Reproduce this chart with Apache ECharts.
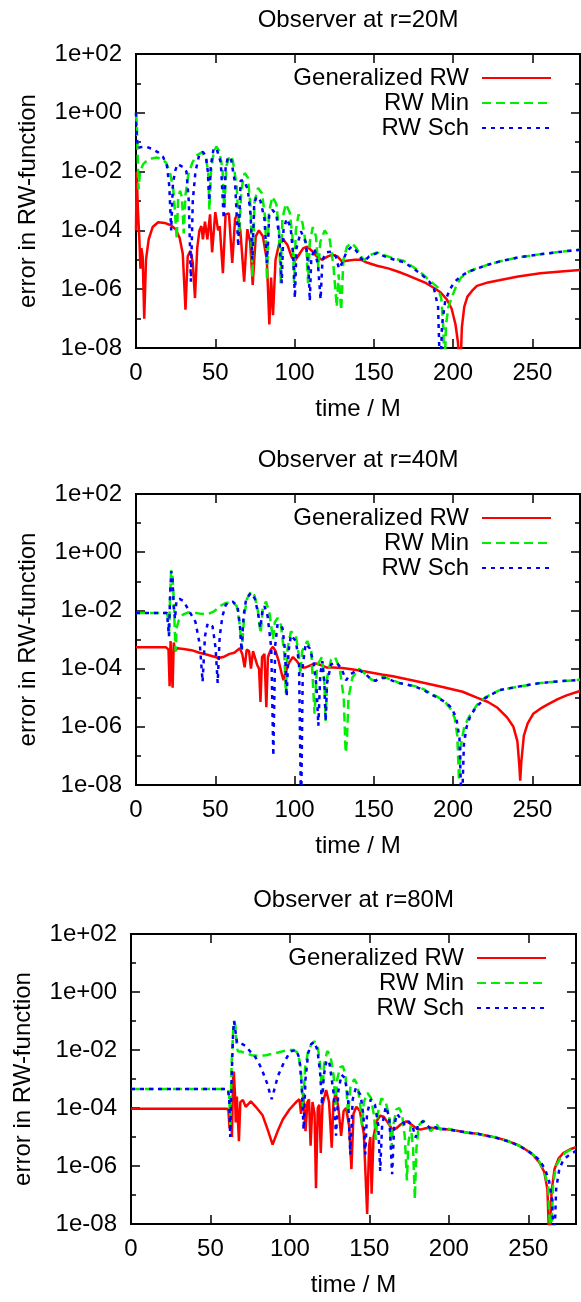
<!DOCTYPE html>
<html><head><meta charset="utf-8">
<script src="https://cdn.jsdelivr.net/npm/echarts@6/dist/echarts.min.js"></script>
<style>html,body{margin:0;padding:0;background:#fff}#c{width:581px;height:1302px}</style>
</head><body><div id="c"></div>
<script>
// ---------------- data ----------------
const panelTitles = ['Observer at r=20M', 'Observer at r=40M', 'Observer at r=80M'];
const seriesNames = ['Generalized RW', 'RW Min', 'RW Sch'];
const xTickValues = [0, 50, 100, 150, 200, 250];
const yTickValues = [1e-8, 1e-6, 1e-4, 1e-2, 1e0, 1e2];
const yTickLabels = ['1e-08', '1e-06', '1e-04', '1e-02', '1e+00', '1e+02'];
const yMinorTickValues = [1e-7, 1e-5, 1e-3, 1e-1, 1e1];
const xAxisTitle = 'time / M';
const yAxisTitle = 'error in RW-function';

// Observer at r=20M  [time, error]
const gen20 = [[0,1e-4],[0.4,1e-2],[1.2,5.0e-4],[2.2,4.0e-5],[2.8,5.0e-6],[3.4,2.5e-5],[4.2,1.3e-5],[5.2,1e-7],[6.3,1e-5],[8,5.0e-5],[10.5,1.3e-4],[14,1.9e-4],[18,1.8e-4],[22,1.5e-4],[25,1.1e-4],[27.5,5.6e-5],[29.5,1.6e-5],[31.2,2.0e-7],[32.6,1.3e-5],[34.4,2.0e-5],[35.8,7.9e-6],[37.2,5.0e-7],[38.6,2.5e-5],[40,1.0e-4],[41.2,1.4e-4],[42.2,5.0e-5],[43.5,2.0e-4],[45,5.0e-5],[46.7,3.5e-4],[48,1.8e-5],[50,4.2e-4],[51.8,1.0e-4],[52.8,1.4e-4],[54.8,3.5e-6],[56.5,3.5e-4],[58.6,3.8e-4],[60.7,7.9e-6],[62.5,2.5e-4],[64,3.5e-4],[65.8,1.0e-4],[68.2,1.8e-6],[70.2,1.1e-4],[72,4.0e-5],[73.6,1.4e-6],[75.5,6.3e-5],[77.5,1.0e-4],[80,6.3e-5],[82.5,1.0e-5],[84.1,6.3e-8],[85.2,2.5e-6],[86.4,1.3e-7],[88,1.0e-5],[90.5,4.0e-5],[92.8,5.0e-5],[95.5,3.2e-5],[98,1.3e-5],[100,8.9e-6],[102.5,1.4e-5],[105.5,2.5e-5],[108,2.8e-5],[111,2.0e-5],[114,1.3e-5],[117.3,1.0e-5],[121,1.3e-5],[124,1.5e-5],[127,1.3e-5],[130,8.7e-6],[134,9.5e-6],[138,1.0e-5],[142,1.0e-5],[146,7.9e-6],[152,6.3e-6],[159,5.1e-6],[165,4.0e-6],[171,3.0e-6],[177,2.2e-6],[183,1.6e-6],[188,1.1e-6],[192,7.9e-7],[196,4.5e-7],[199,2.2e-7],[201.5,6.3e-8],[203,1.6e-8],[204.4,1e-9],[205.5,5.0e-8],[207,2.5e-7],[209,5.6e-7],[212,8.9e-7],[215,1.3e-6],[222,1.7e-6],[229,2.0e-6],[241,2.7e-6],[255,3.5e-6],[268,4.0e-6],[280,4.5e-6]];
const min20 = [[0,1.0],[0.6,0.32],[1.6,2.5e-3],[2.6,1.0e-2],[4.5,1.8e-2],[7,2.4e-2],[10,2.8e-2],[13,3.0e-2],[16,2.8e-2],[19,2.0e-2],[21.5,8.9e-3],[23.5,2.5e-3],[24.6,4.0e-4],[25.7,5.0e-5],[26.6,1.3e-3],[27.8,2.2e-3],[29,1.3e-3],[30.1,7.9e-5],[31.2,1.6e-3],[33,7.9e-3],[35.5,2.0e-2],[38,3.5e-2],[41.5,4.5e-2],[44,3.2e-2],[45.5,1.0e-2],[46.3,5.0e-4],[47.3,1.0e-2],[49,4.5e-2],[50.7,7.1e-2],[52.5,5.0e-2],[54.5,1.3e-2],[55.7,5.0e-4],[57,1.6e-2],[59,3.5e-2],[61,2.5e-2],[63.5,3.2e-3],[65,6.3e-5],[66.5,2.5e-3],[68.5,8.9e-3],[70.5,6.3e-3],[72.3,6.3e-4],[73.4,2.5e-6],[74.8,1.0e-3],[77,2.8e-3],[79.5,1.8e-3],[81.5,2.5e-4],[82.6,2.0e-6],[83.8,4.0e-4],[86,1.4e-3],[88.5,7.9e-4],[90.2,1.0e-4],[91.2,1.6e-6],[92.3,2.5e-4],[94.5,7.9e-4],[97,4.0e-4],[98.8,5.0e-5],[99.7,1.6e-6],[100.8,1.0e-4],[102.5,3.5e-4],[105,1.8e-4],[107.5,2.5e-5],[108.5,1.6e-6],[109.6,4.0e-5],[111.5,1.3e-4],[113.5,6.3e-5],[115,5.0e-6],[116.2,4.0e-5],[119,1.0e-4],[122,5.6e-5],[124.5,6.3e-6],[126.6,2.5e-7],[127.8,3.2e-6],[129.4,1.9e-7],[130.8,1.0e-5],[133,2.8e-5],[136,3.7e-5],[139,2.5e-5],[141.5,1.4e-5],[144,9.5e-6],[147,1.4e-5],[152,1.8e-5],[157,1.4e-5],[163,1.1e-5],[169,9.1e-6],[175,5.6e-6],[180,3.5e-6],[185,2.0e-6],[190,1.2e-6],[192.5,5.0e-7],[193.8,5.0e-8],[194.5,1e-9],[195.5,6.3e-8],[197,2.5e-7],[199,5.0e-7],[202,1.3e-6],[205,2.5e-6],[210,4.0e-6],[215,5.1e-6],[222,6.8e-6],[229,8.7e-6],[241,1.2e-5],[253,1.5e-5],[265,1.8e-5],[280,2.2e-5]];
const sch20 = [[0,1.0],[0.5,0.16],[1.2,6.3e-2],[3,6.8e-2],[6,7.1e-2],[10,6.0e-2],[14,4.5e-2],[17,3.2e-2],[19.5,1.6e-2],[21,3.2e-3],[22.2,1.0e-4],[23.3,4.0e-3],[24.8,1.1e-2],[26.2,1.8e-2],[28,1.6e-2],[30,1.4e-2],[31.8,1.0e-2],[33.3,1.0e-3],[34.6,1.8e-6],[35.8,1.0e-3],[37.5,1.0e-2],[40,4.0e-2],[42,4.7e-2],[44,3.5e-2],[45.3,1.0e-2],[46.2,1.0e-3],[47.2,1.6e-2],[49,6.3e-2],[51,5.6e-2],[53.5,2.0e-2],[55.3,2.5e-4],[56.5,1.3e-2],[58,3.2e-2],[60,2.5e-2],[62.5,4.0e-3],[64.5,2.8e-5],[66,5.0e-3],[68,5.0e-3],[70.5,2.5e-3],[72.3,3.2e-4],[73.4,1.0e-5],[74.5,7.9e-4],[76,1.4e-3],[78.5,1.0e-3],[81,2.5e-4],[82.6,7.9e-6],[84,3.2e-4],[86,5.0e-4],[88.5,3.5e-4],[90.5,5.0e-5],[91.9,1.6e-6],[93,1.0e-4],[95,2.5e-4],[97.5,1.3e-4],[99.2,1.3e-5],[100.2,5.0e-7],[101.2,2.5e-5],[104,9.3e-5],[107,4.0e-5],[108.8,5.0e-6],[109.6,4.0e-7],[110.5,1.0e-5],[112.5,2.5e-5],[114.8,6.3e-6],[116.4,4.5e-7],[117.6,1.0e-5],[120,1.8e-5],[123,1.9e-5],[126,1.3e-5],[128,5.0e-6],[130,7.9e-6],[133,2.0e-5],[136,2.8e-5],[139,2.0e-5],[142,1.1e-5],[144,8.9e-6],[147,1.3e-5],[152,1.7e-5],[157,1.3e-5],[163,1.0e-5],[169,8.3e-6],[175,5.0e-6],[180,3.2e-6],[185,1.8e-6],[188,1.0e-6],[190.5,2.5e-7],[191.8,1e-9],[193,6.3e-8],[195,4.0e-7],[198,1.0e-6],[201,1.8e-6],[205,2.8e-6],[210,4.0e-6],[215,5.0e-6],[222,6.8e-6],[229,8.7e-6],[241,1.2e-5],[253,1.5e-5],[265,1.8e-5],[280,2.2e-5]];

// Observer at r=40M
const gen40 = [[0,5.4e-4],[19,5.4e-4],[20.5,4.5e-4],[21.2,2.5e-5],[21.8,8.9e-4],[22.5,1.0e-4],[23.1,2.2e-5],[23.8,7.9e-4],[24.6,4.0e-4],[26,5.0e-4],[30,4.7e-4],[35,4.3e-4],[40,3.5e-4],[45,3.0e-4],[50,2.5e-4],[52,2.3e-4],[55,2.5e-4],[59,3.2e-4],[62,3.5e-4],[65.5,5.0e-4],[67,3.2e-4],[68.5,1.1e-4],[69.8,4.5e-4],[71.3,4.0e-4],[72.5,1.0e-4],[73.8,4.0e-4],[75,3.5e-4],[76.5,1.3e-4],[77.6,1.0e-4],[78.5,7.1e-6],[79.5,2.5e-4],[81,3.2e-4],[82.2,4.7e-6],[83.2,2.5e-4],[85,4.5e-4],[86.4,5.6e-4],[88,4.0e-4],[90,1.8e-4],[92,6.3e-5],[93,4.0e-5],[94.5,7.9e-5],[96.5,1.6e-4],[99,2.5e-4],[101.5,1.8e-4],[104.4,1.1e-4],[107,1.1e-4],[110,1.3e-4],[113.5,1.5e-4],[117,1.3e-4],[120,1.1e-4],[124,1.1e-4],[130,1.05e-4],[136,9.5e-5],[142,8.5e-5],[148,7.4e-5],[155,6.3e-5],[162,5.5e-5],[171,4.3e-5],[182,3.2e-5],[194,2.3e-5],[206,1.6e-5],[215,1.0e-5],[222,7.1e-6],[228,4.5e-6],[234,2.1e-6],[238,1.0e-6],[240.5,3.2e-7],[241.7,5.0e-8],[242.3,1.4e-8],[243,6.3e-8],[244.6,5.0e-7],[247,1.3e-6],[250.5,2.8e-6],[255,4.2e-6],[260,6.0e-6],[266,8.9e-6],[271.5,1.2e-5],[280,1.7e-5]];
const min40 = [[0,8.1e-3],[19.5,8.1e-3],[20.3,5.0e-3],[20.8,1.3e-3],[21.5,3.2e-2],[22.2,0.24],[23,0.16],[23.8,2.5e-2],[24.4,2.5e-3],[25,4.0e-4],[25.6,2.5e-3],[27,4.5e-3],[29.5,7.1e-3],[33,8.5e-3],[37,8.3e-3],[41,7.6e-3],[45,7.4e-3],[49.5,9.5e-3],[53,1.4e-2],[56.5,1.8e-2],[61,1.9e-2],[63.5,1.4e-2],[65.2,4.0e-3],[66.8,4.5e-4],[68.2,6.3e-3],[70,2.5e-2],[72.5,4.5e-2],[74.8,3.2e-2],[76.8,1.0e-2],[78.6,1.6e-3],[80,1.3e-2],[82,2.0e-2],[84.2,7.9e-3],[86.4,1.0e-3],[87.6,4.0e-3],[89.3,5.5e-3],[91.4,3.2e-3],[93.5,3.2e-4],[94.5,1.4e-5],[95.6,5.0e-4],[97.7,1.9e-3],[100.8,1.4e-3],[102.6,3.2e-4],[103.6,6.3e-5],[104.8,4.0e-4],[108,8.9e-4],[110.5,4.0e-4],[112.6,2.8e-6],[114.2,1.3e-4],[117.3,2.5e-4],[118.8,3.2e-5],[119.6,1.6e-6],[120.6,5.0e-5],[123,2.0e-4],[125.5,2.5e-4],[128.5,1.0e-4],[131,1.0e-5],[132.2,1.3e-7],[133,3.2e-7],[134,1.0e-5],[136.5,5.0e-5],[140.7,9.8e-5],[145,6.3e-5],[148.5,4.2e-5],[151,3.8e-5],[154,5.0e-5],[157,5.0e-5],[162,4.0e-5],[166,3.2e-5],[171,2.8e-5],[176,2.5e-5],[181,2.0e-5],[186,1.4e-5],[191,1.0e-5],[195,7.1e-6],[198.5,4.0e-6],[201,2.0e-6],[202.6,5.0e-7],[203.7,1.4e-8],[205,2.5e-7],[207,1.0e-6],[210,2.2e-6],[215,5.6e-6],[220,1.0e-5],[229,1.8e-5],[241,2.4e-5],[255,3.2e-5],[268,3.7e-5],[280,4.1e-5]];
const sch40 = [[0,8.1e-3],[19.5,8.1e-3],[20.2,3.2e-3],[20.8,1.3e-3],[21.5,3.2e-2],[22.2,0.22],[23,0.13],[23.8,1.3e-2],[24.6,5.0e-3],[25.5,2.2e-2],[27.5,2.5e-2],[30,2.1e-2],[33.6,9.3e-3],[37.5,4.0e-3],[40.3,6.3e-4],[42,3.5e-5],[43.5,1.3e-3],[45.2,3.6e-3],[48.3,2.8e-3],[50.2,5.0e-4],[51.5,3.2e-5],[52.8,1.3e-3],[54.5,6.3e-3],[56.7,1.6e-2],[61,2.0e-2],[64,1.4e-2],[65.5,3.2e-3],[66.6,4.0e-4],[67.8,6.3e-3],[69.5,2.5e-2],[72.5,4.0e-2],[75,2.5e-2],[77,7.9e-3],[78.4,2.5e-3],[79.8,1.0e-2],[81,1.4e-2],[83,6.3e-3],[85.3,5.0e-4],[86.6,1.0e-7],[87.8,6.3e-4],[89.3,3.5e-3],[92.4,2.5e-3],[94,4.0e-4],[95,1.1e-5],[96.2,4.0e-4],[97.7,1.4e-3],[100.8,8.9e-4],[102.8,1.6e-4],[104.1,1e-9],[105.2,1.3e-4],[107,7.1e-4],[109.5,5.0e-4],[112,1.6e-4],[113.8,2.5e-5],[115,1.1e-6],[116.2,6.3e-5],[117.5,1.8e-4],[118.8,3.2e-5],[119.6,1.6e-6],[120.5,3.2e-5],[123,1.4e-4],[126.6,1.6e-4],[129.5,1.0e-4],[132.5,4.0e-5],[135,6.3e-5],[138,7.9e-5],[140.7,8.9e-5],[145,6.3e-5],[148.5,4.2e-5],[151,3.8e-5],[154,4.8e-5],[157,4.8e-5],[162,3.8e-5],[166,3.2e-5],[171,2.8e-5],[176,2.4e-5],[181,1.9e-5],[186,1.3e-5],[191,9.5e-6],[195,7.1e-6],[199,4.5e-6],[202,2.0e-6],[204,4.0e-7],[205.4,1e-9],[206.8,2.5e-7],[208.5,1.0e-6],[211,2.5e-6],[215,5.0e-6],[220,9.5e-6],[229,1.8e-5],[241,2.4e-5],[255,3.2e-5],[268,3.7e-5],[280,4.1e-5]];

// Observer at r=80M
const gen80 = [[0,9.5e-5],[60.5,9.5e-5],[61.3,7.9e-5],[62,2.0e-5],[62.8,2.5e-4],[63.5,1.0e-5],[64.2,1.0e-3],[64.7,1.8e-3],[65.4,3.2e-4],[65.9,3.2e-5],[66.6,2.5e-4],[67.9,7.1e-6],[68.8,1.6e-4],[70.4,1.9e-4],[72.2,1.1e-4],[75.4,1.7e-4],[78.5,1.1e-4],[82.8,5.6e-5],[86,1.8e-5],[89.1,5.5e-6],[92.3,1.6e-5],[95.5,4.0e-5],[99.7,8.9e-5],[103.9,1.6e-4],[106,2.0e-4],[107,6.3e-5],[108.5,3.3e-4],[109.8,1.6e-5],[111,1.6e-4],[112,2.0e-4],[113,5.0e-6],[114.2,1.6e-4],[115.5,6.3e-5],[116.4,1.7e-7],[117.5,1.0e-4],[118.5,1.3e-4],[119.4,2.8e-6],[120.5,1.3e-4],[122.8,4.2e-4],[124.6,1.6e-4],[126.3,4.3e-6],[127.4,1.6e-4],[128.8,3.2e-4],[130.5,1.0e-4],[132.2,1.1e-5],[133.8,7.9e-5],[135.3,1.0e-4],[137.2,2.5e-5],[138.7,7.8e-7],[140,6.3e-5],[141.8,1.1e-4],[144,7.9e-5],[146.5,1.3e-5],[148.6,2.2e-8],[149.8,5.0e-6],[150.6,1.0e-5],[151.4,1.1e-7],[152.6,1.0e-5],[154.5,3.5e-5],[156.8,5.4e-5],[159,5.0e-5],[161.5,3.2e-5],[164.5,1.8e-5],[167,2.0e-5],[170,2.8e-5],[173.2,3.5e-5],[176,2.8e-5],[179,2.1e-5],[182,1.8e-5],[185.5,2.0e-5],[188.5,2.1e-5],[192,2.0e-5],[196,1.9e-5],[200,1.8e-5],[206,1.6e-5],[212,1.4e-5],[218,1.3e-5],[224,1.1e-5],[230,9.5e-6],[236,7.6e-6],[241,6.0e-6],[245,4.8e-6],[249,3.5e-6],[253,2.4e-6],[257,1.3e-6],[260,6.3e-7],[262,1.6e-7],[263.4,1e-9],[264.6,1.3e-7],[266.5,7.9e-7],[269,1.8e-6],[272,2.8e-6],[276,3.7e-6],[280,4.5e-6]];
const min80 = [[0,4.5e-4],[61,4.5e-4],[61.8,2.5e-4],[62.5,2.5e-5],[63.3,3.2e-3],[64.3,5.0e-2],[65,0.1],[65.8,6.3e-2],[66.5,1.3e-2],[67.3,8.9e-3],[69,8.9e-3],[72,7.9e-3],[76,6.6e-3],[80.5,6.3e-3],[85,6.6e-3],[90,7.6e-3],[95,8.9e-3],[99.3,1.0e-2],[102.5,1.0e-2],[105,7.9e-3],[106.8,2.5e-3],[108.2,1.0e-4],[109.6,2.5e-3],[111.4,8.9e-3],[113.5,1.6e-2],[115.3,2.0e-2],[117.5,1.3e-2],[119,3.2e-3],[120.3,3.2e-4],[121.5,3.2e-3],[123.5,9.3e-3],[125.5,6.3e-3],[127.5,1.3e-3],[128.6,1.3e-4],[129.8,1.0e-3],[131.5,2.5e-3],[133.3,2.8e-3],[135,1.3e-3],[136.6,6.3e-5],[138,5.0e-4],[140.5,1.0e-3],[142.5,6.3e-4],[144.2,1.3e-4],[145.3,2.5e-5],[146.5,1.6e-4],[148.8,3.3e-4],[151,2.2e-4],[153,5.0e-5],[154,7.9e-6],[155.2,6.3e-5],[157.5,2.1e-4],[160,1.8e-4],[162.5,5.0e-5],[163.8,4.0e-6],[165,2.5e-5],[167,8.9e-5],[168.8,1.0e-4],[170.5,6.3e-5],[172.3,1.0e-5],[173.6,3.2e-7],[174.6,6.3e-6],[176,2.5e-5],[177.5,4.0e-6],[178.6,7.2e-8],[179.6,4.0e-6],[181,2.5e-5],[183.8,3.7e-5],[186,2.8e-5],[188.5,1.6e-5],[190.5,2.0e-5],[192.5,2.6e-5],[194.5,1.8e-5],[197,2.0e-5],[200,1.9e-5],[206,1.6e-5],[212,1.4e-5],[218,1.3e-5],[224,1.1e-5],[230,9.5e-6],[236,7.6e-6],[241,6.0e-6],[245,4.8e-6],[249,3.5e-6],[253,2.5e-6],[257,1.4e-6],[260,6.3e-7],[262.5,2.0e-7],[264.2,1e-9],[265.6,2.5e-7],[267.5,1.0e-6],[270,1.8e-6],[273,2.8e-6],[277,3.8e-6],[280,4.2e-6]];
const sch80 = [[0,4.5e-4],[61,4.5e-4],[61.8,2.0e-4],[62.4,1.0e-5],[63.3,1.0e-3],[64.2,3.2e-2],[64.8,0.1],[65.6,5.0e-2],[66.8,1.7e-2],[69,1.7e-2],[72,1.4e-2],[75,8.9e-3],[77.2,6.9e-3],[80,4.0e-3],[82.5,2.0e-3],[85.6,7.2e-4],[88.5,2.0e-4],[90.5,5.0e-4],[92.5,1.3e-3],[96,3.5e-3],[100.3,8.9e-3],[104,1.0e-2],[106,5.0e-3],[107.5,5.0e-4],[108.6,1.8e-5],[109.8,1.0e-3],[111.5,7.9e-3],[113.4,1.6e-2],[115.3,1.9e-2],[117.3,1.0e-2],[119,1.6e-3],[120.2,1.3e-4],[121.3,1.3e-3],[123,4.5e-3],[125,3.2e-3],[127.5,3.2e-4],[129,1.1e-5],[130.5,4.0e-4],[132.5,1.4e-3],[134.5,1.1e-3],[136.5,2.5e-4],[138,2.5e-6],[139.5,2.0e-4],[141.5,5.0e-4],[144.5,2.8e-4],[146.3,5.0e-5],[147.4,2.5e-6],[148.5,6.3e-5],[150.9,2.0e-4],[153.5,1.3e-4],[155.6,2.5e-5],[156.8,6.8e-7],[158,2.5e-5],[160.3,1.1e-4],[162.5,5.0e-5],[164.3,5.2e-7],[165.6,2.5e-5],[167.4,6.3e-5],[170,4.0e-5],[172.5,2.5e-5],[174.5,3.5e-5],[177,2.5e-5],[179.1,9.5e-6],[180.5,2.5e-5],[183.8,3.5e-5],[186.5,2.5e-5],[189,1.8e-5],[191.5,2.2e-5],[194,1.7e-5],[197,1.9e-5],[200,1.8e-5],[206,1.6e-5],[212,1.4e-5],[218,1.3e-5],[224,1.1e-5],[230,9.3e-6],[236,7.4e-6],[241,5.9e-6],[245,4.7e-6],[249,3.5e-6],[253,2.5e-6],[257,1.6e-6],[260.5,7.9e-7],[263,3.2e-7],[265,6.3e-8],[266.2,1e-9],[267.5,1.6e-7],[269.5,7.9e-7],[272,1.6e-6],[276,2.5e-6],[280,3.3e-6]];

// ---------------- chart ----------------
const panelData = [[gen20, min20, sch20], [gen40, min40, sch40], [gen80, min80, sch80]];
const colors = ['#ff0000', '#00ee00', '#0000ff'];
const dashes = ['solid', [9, 5], [4, 5]];
const layout = [
  {left: 136, top: 54, width: 444, height: 294, legendRight: 29},
  {left: 136, top: 494, width: 444, height: 291, legendRight: 29},
  {left: 131, top: 934, width: 445, height: 290, legendRight: 34}
];
const FONT = '"Liberation Sans", Arial, sans-serif';
const FS = 24;
const txt = {fontFamily: FONT, fontSize: FS, color: '#000', fontWeight: 'normal'};
const tickStyle = {color: '#000', width: 1.5};

function yLabel(v) {
  const i = yTickValues.findIndex(t => Math.abs(Math.log10(t) - Math.log10(v)) < 1e-6);
  return i >= 0 ? yTickLabels[i] : '';
}

const option = {animation: false, backgroundColor: '#fff', title: [], grid: [], xAxis: [], yAxis: [], legend: [], series: []};

layout.forEach((L, p) => {
  option.title.push({text: panelTitles[p], left: L.left + L.width / 2, top: L.top - 46, textAlign: 'center', padding: 0, textStyle: txt});
  option.grid.push({left: L.left, top: L.top, width: L.width, height: L.height, show: true, borderColor: '#000', borderWidth: 2, backgroundColor: 'transparent'});
  option.xAxis.push({gridIndex: p, type: 'value', min: 0, max: 280, position: 'bottom',
    axisLine: {show: false}, splitLine: {show: false},
    axisTick: {show: true, inside: true, length: 9, customValues: xTickValues, lineStyle: tickStyle},
    axisLabel: {show: true, customValues: xTickValues, margin: 13, ...txt},
    name: xAxisTitle, nameLocation: 'middle', nameGap: 49, nameTextStyle: txt});
  option.xAxis.push({gridIndex: p, type: 'value', min: 0, max: 280, position: 'top',
    axisLine: {show: false}, splitLine: {show: false},
    axisTick: {show: true, inside: true, length: 9, customValues: xTickValues, lineStyle: tickStyle},
    axisLabel: {show: false}});
  const yBase = {gridIndex: p, type: 'log', logBase: 10, min: 1e-8, max: 1e2, axisLine: {show: false}, splitLine: {show: false}, minorTick: {show: false}};
  option.yAxis.push(Object.assign({}, yBase, {position: 'left',
    axisTick: {show: true, inside: true, length: 9, customValues: yTickValues, lineStyle: tickStyle},
    axisLabel: {show: true, customValues: yTickValues, margin: 14, formatter: yLabel, ...txt},
    name: yAxisTitle, nameLocation: 'middle', nameGap: 96, nameRotate: 90, nameTextStyle: txt}));
  option.yAxis.push(Object.assign({}, yBase, {position: 'left',
    axisTick: {show: true, inside: true, length: 5, customValues: yMinorTickValues, lineStyle: tickStyle},
    axisLabel: {show: false}}));
  option.yAxis.push(Object.assign({}, yBase, {position: 'right',
    axisTick: {show: true, inside: true, length: 9, customValues: yTickValues, lineStyle: tickStyle},
    axisLabel: {show: false}}));
  option.yAxis.push(Object.assign({}, yBase, {position: 'right',
    axisTick: {show: true, inside: true, length: 5, customValues: yMinorTickValues, lineStyle: tickStyle},
    axisLabel: {show: false}}));
  option.legend.push({data: seriesNames, orient: 'vertical', align: 'right', right: L.legendRight, top: L.top + 12,
    padding: 0, itemWidth: 69, itemHeight: 14, itemGap: 1, selectedMode: false,
    itemStyle: {opacity: 0, borderWidth: 0},
    textStyle: Object.assign({}, txt, {padding: [0, 8, 0, 0]})});
  panelData[p].forEach((d, k) => {
    option.series.push({name: seriesNames[k], type: 'line', xAxisIndex: 2 * p, yAxisIndex: 4 * p,
      data: d, symbol: 'none', showSymbol: false, clip: true, z: 2 + k,
      lineStyle: {color: colors[k], width: 2.5, type: dashes[k]}, itemStyle: {color: colors[k]}});
  });
});

const chart = echarts.init(document.getElementById('c'), null, {renderer: 'canvas'});
chart.setOption(option);
</script>
</body></html>
